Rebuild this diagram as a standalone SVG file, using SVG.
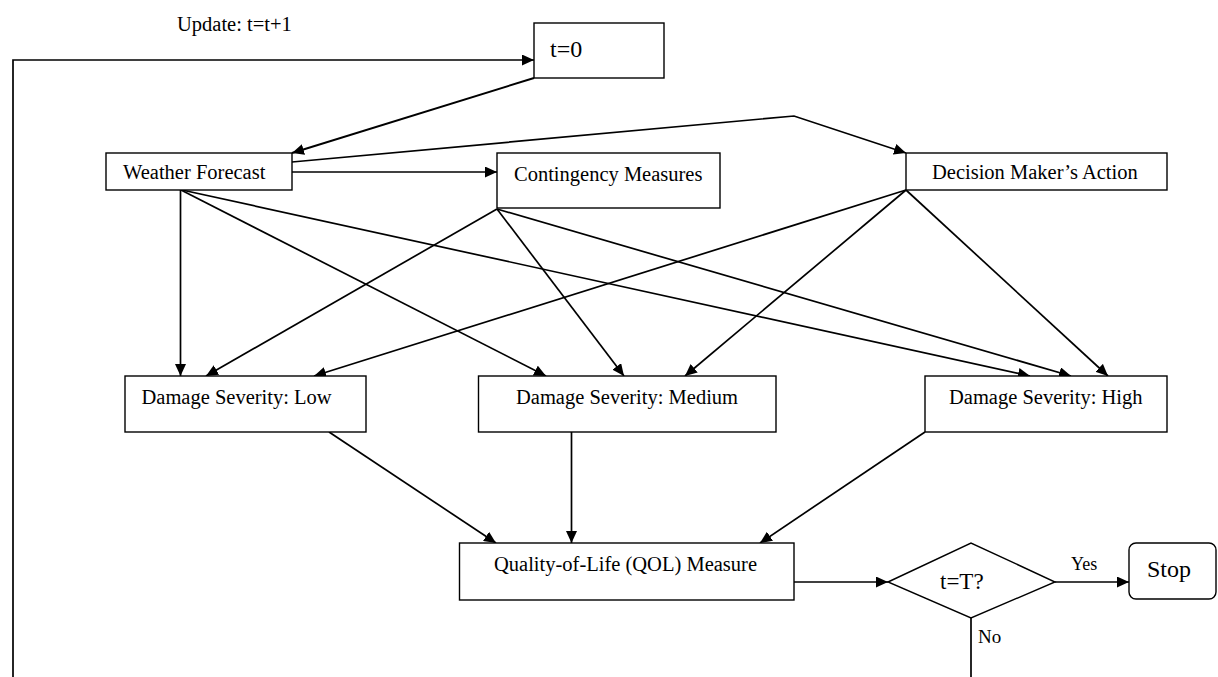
<svg xmlns="http://www.w3.org/2000/svg" width="1218" height="677" viewBox="0 0 1218 677">
<style>
.box{fill:#fff;stroke:#000;stroke-width:1.4}
.lbl{font-family:"Liberation Serif","Times New Roman",serif;font-size:20.5px;fill:#000}
.con{fill:none;stroke:#000;stroke-width:1.7}
.arr{marker-end:url(#ah)}
</style>
<defs>
<marker id="ah" markerUnits="userSpaceOnUse" markerWidth="13" markerHeight="11" refX="12" refY="5.5" orient="auto">
<path d="M0,0 L12,5.5 L0,11 z" fill="#000"/>
</marker>
</defs>
<rect width="1218" height="677" fill="#fff"/>

<g id="connectors">
<polyline class="con arr" points="13,677 13,60 534,60"/>
<line class="con arr" x1="534" y1="78" x2="292" y2="153" style="stroke-width:2"/>
<polyline class="con arr" points="292,162 794,116 906,153"/>
<line class="con arr" x1="292" y1="172" x2="497" y2="172"/>
<line class="con arr" x1="180.5" y1="190" x2="180.5" y2="376"/>
<line class="con arr" x1="181" y1="190" x2="546" y2="376"/>
<line class="con arr" x1="182" y1="190" x2="1030" y2="376"/>
<line class="con arr" x1="497" y1="209" x2="206" y2="376"/>
<line class="con arr" x1="497" y1="209" x2="624" y2="376"/>
<line class="con arr" x1="497" y1="209" x2="1071" y2="376"/>
<line class="con arr" x1="906" y1="190" x2="314" y2="376"/>
<line class="con arr" x1="906" y1="190" x2="685" y2="376"/>
<line class="con arr" x1="906" y1="190" x2="1108" y2="376"/>
<line class="con arr" x1="329" y1="432" x2="496" y2="543"/>
<line class="con arr" x1="571.5" y1="432" x2="571.5" y2="543"/>
<line class="con arr" x1="925" y1="432" x2="760" y2="543"/>
<line class="con arr" x1="794" y1="582" x2="888" y2="582"/>
<line class="con arr" x1="1055" y1="582" x2="1129" y2="582"/>
<line class="con" x1="971" y1="618" x2="971" y2="677"/>
<text class="lbl" x="177" y="30.5">Update: t=t+1</text>
<text class="lbl" x="1071" y="570" style="font-size:18px">Yes</text>
<text class="lbl" x="978" y="643" style="font-size:19px">No</text>
</g>

<g id="t0">
<rect class="box" x="534" y="23" width="130" height="55"/>
<text class="lbl" x="550" y="57" style="font-size:24px">t=0</text>
</g>
<g id="weather">
<rect class="box" x="106" y="153" width="186" height="37"/>
<text class="lbl" x="123" y="179">Weather Forecast</text>
</g>
<g id="contingency">
<rect class="box" x="497" y="153" width="223" height="55"/>
<text class="lbl" x="514" y="181">Contingency Measures</text>
</g>
<g id="decision">
<rect class="box" x="906" y="153" width="261" height="37"/>
<text class="lbl" x="932" y="179">Decision Maker’s Action</text>
</g>
<g id="low">
<rect class="box" x="125" y="376" width="241" height="56"/>
<text class="lbl" x="141.5" y="404">Damage Severity: Low</text>
</g>
<g id="medium">
<rect class="box" x="478.5" y="376" width="297.5" height="56"/>
<text class="lbl" x="516" y="404">Damage Severity: Medium</text>
</g>
<g id="high">
<rect class="box" x="925" y="376" width="242" height="56"/>
<text class="lbl" x="949" y="404">Damage Severity: High</text>
</g>
<g id="qol">
<rect class="box" x="459.5" y="543" width="334.5" height="57"/>
<text class="lbl" x="494" y="571">Quality-of-Life (QOL) Measure</text>
</g>
<g id="decision-t">
<polygon class="box" points="888,582 971,543 1055,582 971,618"/>
<text class="lbl" x="940" y="589" style="font-size:23px">t=T?</text>
</g>
<g id="stop">
<rect class="box" x="1129" y="543" width="87" height="56" rx="7" ry="7"/>
<text class="lbl" x="1147" y="577" style="font-size:24px">Stop</text>
</g>
</svg>
